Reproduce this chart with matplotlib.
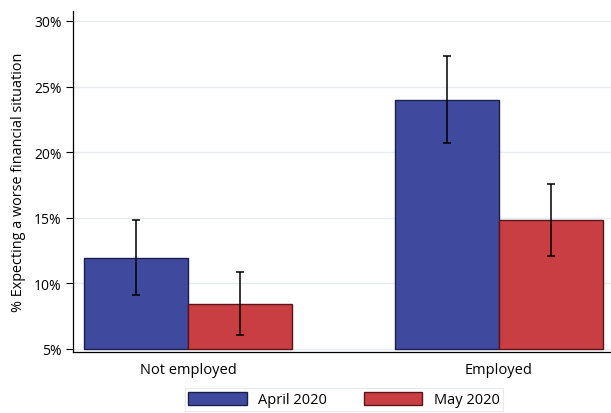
import matplotlib
matplotlib.use("Agg")
import matplotlib.pyplot as plt
import numpy as np
from matplotlib.patches import Patch

categories = ["Not employed", "Employed"]
series = ["April 2020", "May 2020"]
april = [11.9, 24.0]
april_lo = [9.1, 20.7]
april_hi = [14.8, 27.3]
may = [8.4, 14.8]
may_lo = [6.1, 12.1]
may_hi = [10.9, 17.6]
yticks = [5, 10, 15, 20, 25, 30]

plt.rcParams['font.family'] = ['Open Sans', 'DejaVu Sans']

fig = plt.figure(figsize=(6.11, 4.14), dpi=100)
ax = fig.add_axes([73/611, 61/414, 541/611, 341/414])

blue = "#3F4A9E"
red = "#C83E42"
x = np.arange(len(categories))
w = 0.334
base = 5
ax.bar(x - w/2, np.array(april) - base, w, bottom=base, color=blue, edgecolor="#1A1F4A", linewidth=1.0, zorder=2)
ax.bar(x + w/2, np.array(may) - base, w, bottom=base, color=red, edgecolor="#5A1518", linewidth=1.0, zorder=2)

for xs, lo, hi in [(x - w/2, april_lo, april_hi), (x + w/2, may_lo, may_hi)]:
    mid = [(a + b) / 2 for a, b in zip(lo, hi)]
    err = [[m - a for m, a in zip(mid, lo)], [b - m for m, b in zip(mid, hi)]]
    ax.errorbar(xs, mid, yerr=err, fmt='none', ecolor='black', elinewidth=1.1, capsize=3, capthick=1.1, zorder=3)

ax.set_xlim(-0.37, 1.37)
ax.set_ylim(4.77, 30.76)
ax.set_yticks(yticks)
ax.set_yticklabels([f"{v}%" for v in yticks], fontsize=10)
ax.set_xticks(x)
ax.set_xticklabels(categories, fontsize=10.5)
ax.tick_params(axis='x', length=0, pad=7)
ax.tick_params(axis='y', length=5, width=0.8, pad=3)
ax.yaxis.grid(True, color="#E6EDF0", linewidth=1.0, zorder=0)
ax.set_axisbelow(True)
for s in ['top', 'right']:
    ax.spines[s].set_visible(False)
for s in ['left', 'bottom']:
    ax.spines[s].set_linewidth(0.9)
ax.set_ylabel("% Expecting a worse financial situation", fontsize=10.4, labelpad=6)

handles = [Patch(facecolor=blue, edgecolor="#1A1F4A"), Patch(facecolor=red, edgecolor="#5A1518")]
leg = fig.legend(handles, series, loc='upper center', bbox_to_anchor=(344/611, 1 - 389/414),
                 ncol=2, fontsize=10.5, frameon=True, fancybox=False, edgecolor="#E0E6E8",
                 handlelength=4.0, handleheight=1.0, columnspacing=2.5, borderpad=0.25,
                 handletextpad=0.8, borderaxespad=0)
leg.get_frame().set_linewidth(0.8)

fig.savefig("out.png", dpi=100)
